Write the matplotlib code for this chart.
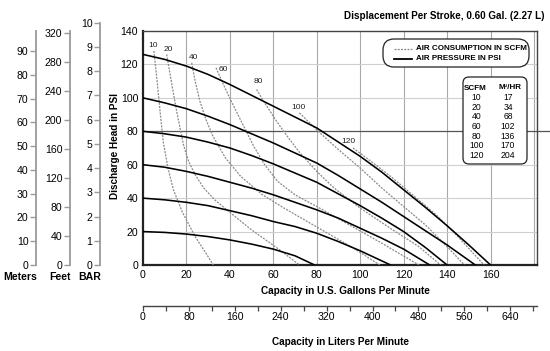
import matplotlib
matplotlib.use("Agg")
import matplotlib.pyplot as plt
from matplotlib.patches import FancyBboxPatch
from matplotlib.lines import Line2D
from matplotlib.ticker import MultipleLocator

plt.rcParams['font.family'] = ['Liberation Sans Narrow', 'Liberation Sans', 'DejaVu Sans']

# ---------------- data ----------------
psi_labels = [20, 40, 60, 80, 100, 120]
psi20_gpm = [0, 10, 20, 30, 40, 50, 60, 70, 79]
psi20_head = [20, 19.5, 18.5, 17, 15, 12.5, 9.5, 5.5, 0]
psi40_gpm = [0, 10, 20, 30, 40, 50, 60, 70, 80, 90, 100, 114]
psi40_head = [40, 39, 37.5, 35.5, 32.5, 29.5, 26, 23, 19, 14, 8.5, 0]
psi60_gpm = [0, 10, 20, 30, 40, 50, 60, 70, 80, 90, 100, 110, 120, 132]
psi60_head = [60, 58.5, 56, 53, 49.5, 46, 42, 37.5, 33, 28, 22, 16, 9.5, 0]
psi80_gpm = [0, 10, 20, 30, 40, 50, 60, 70, 80, 90, 100, 110, 120, 130, 140]
psi80_head = [80, 78.5, 76.5, 73.5, 70, 65.5, 60.5, 55, 49.5, 42.5, 35.5, 28, 20, 10.5, 0]
psi100_gpm = [0, 10, 20, 30, 40, 50, 60, 70, 80, 90, 100, 110, 120, 130, 140, 153]
psi100_head = [100, 97, 93.5, 89, 84, 78.5, 73, 67, 61, 53.5, 45.5, 37.5, 29, 20.5, 12, 0]
psi120_gpm = [0, 10, 20, 30, 40, 50, 60, 70, 80, 90, 100, 110, 120, 130, 140, 150, 160]
psi120_head = [126, 123, 119, 114, 108, 101.5, 95, 88.5, 82, 73.5, 65, 55.5, 45, 34.5, 23.5, 12, 0]

scfm_labels = [10, 20, 40, 60, 80, 100, 120]
scfm10_gpm = [5, 6.5, 8, 9.4, 11.5, 14, 18, 24, 28.5, 32.4]
scfm10_head = [128, 110, 90, 73, 58, 45, 32, 17, 8, 0]
scfm20_gpm = [10.9, 13, 15.5, 18.6, 21, 24, 28, 33, 40, 50, 63, 72]
scfm20_head = [126, 110, 92, 72, 62, 54, 46, 39, 31.5, 21, 9, 0]
scfm40_gpm = [22.4, 24, 26.2, 29, 32.2, 38, 45, 55, 65, 75, 85, 97, 109]
scfm40_head = [121, 110, 98, 87, 77, 64, 53, 42, 34, 26.5, 19, 10, 0]
scfm60_gpm = [33.6, 37, 41, 46, 51, 56, 62, 70, 80, 95, 110, 127]
scfm60_head = [118, 108, 97, 84, 71, 60, 50, 42, 35, 24, 13, 0]
scfm80_gpm = [52.3, 56, 61.5, 67, 72.3, 80, 88, 100, 115, 127, 137]
scfm80_head = [105, 97, 86, 76, 67, 56, 46, 34, 21, 11, 0]
scfm100_gpm = [72, 76, 80, 90, 100, 110, 120, 130, 140, 148]
scfm100_head = [91, 86, 80.8, 69, 58, 46, 35, 24, 11, 0]
scfm120_gpm = [96.7, 105, 115, 125, 135, 145, 157]
scfm120_head = [70, 62, 52, 41, 30, 17, 0]
scfm_label_gpm = [4.6, 11.5, 23.2, 37, 53.1, 71.5, 94.5]
scfm_label_head = [131.6, 129, 124.3, 116.9, 109.9, 94.3, 73.8]

table_scfm = ['10', '20', '40', '60', '80', '100', '120']
table_m3hr = ['17', '34', '68', '102', '136', '170', '204']

gpm_ticks = [0, 20, 40, 60, 80, 100, 120, 140, 160]
psi_ticks = [0, 20, 40, 60, 80, 100, 120, 140]
lpm_ticks = [0, 80, 160, 240, 320, 400, 480, 560, 640]
meter_ticks = [0, 10, 20, 30, 40, 50, 60, 70, 80, 90]
feet_ticks = [0, 40, 80, 120, 160, 200, 240, 280, 320]
bar_ticks = [0, 1, 2, 3, 4, 5, 6, 7, 8, 9, 10]

XMAX = 181.4
YMAX = 140.0
L_PER_GAL = 3.78541
M_PER_PSI = 0.70307
FT_PER_PSI = 2.30666
BAR_PER_PSI = 0.0689476

# ---------------- figure ----------------
W, H = 550, 351
fig = plt.figure(figsize=(W / 100, H / 100), dpi=100)
fig.patch.set_facecolor('white')

def fx(px):
    return px / W

def fy(py):
    return 1 - py / H

TICKFS = 7.6
BOLDFS = 7.2
SMALLFS = 5.8

# main axes (pixel box: x 143..537, y 31..265)
ax = fig.add_axes([fx(143), fy(265), fx(537) - fx(143), fy(31) - fy(265)])
ax.set_xlim(0, XMAX)
ax.set_ylim(0, YMAX)
ax.set_xticks(gpm_ticks)
ax.set_yticks(psi_ticks)
ax.tick_params(length=0, labelsize=TICKFS, pad=3.5)
for v in gpm_ticks[1:] + [180]:
    ax.axvline(v, color='#a8a8a8', lw=0.8, zorder=1)
for v in psi_ticks[1:-1]:
    if v == 80:
        continue
    ax.axhline(v, color='#cfcfcf', lw=0.8, zorder=1)
ax.plot([0, 1.033], [80 / YMAX, 80 / YMAX], transform=ax.transAxes,
        color='#555555', lw=0.9, clip_on=False, zorder=1)
for s in ['left', 'bottom']:
    ax.spines[s].set_color('#222222')
    ax.spines[s].set_linewidth(1.6)
for s in ['top', 'right']:
    ax.spines[s].set_color('#444444')
    ax.spines[s].set_linewidth(1.0)

pressure = [(psi20_gpm, psi20_head), (psi40_gpm, psi40_head), (psi60_gpm, psi60_head),
            (psi80_gpm, psi80_head), (psi100_gpm, psi100_head), (psi120_gpm, psi120_head)]
for g, h in pressure:
    ax.plot(g, h, color='black', lw=1.15, zorder=4, solid_joinstyle='round')

air = [(scfm10_gpm, scfm10_head), (scfm20_gpm, scfm20_head), (scfm40_gpm, scfm40_head),
       (scfm60_gpm, scfm60_head), (scfm80_gpm, scfm80_head), (scfm100_gpm, scfm100_head),
       (scfm120_gpm, scfm120_head)]
for g, h in air:
    ax.plot(g, h, color='#8a8a8a', lw=0.9, ls=(0, (1.6, 1.0)), zorder=3)
for lab, gx, gy in zip(scfm_labels, scfm_label_gpm, scfm_label_head):
    ax.text(gx, gy, str(lab), fontsize=6.0, ha='center', va='center', color='#222222', zorder=5)

fig.text(fx(115), fy(146), 'Discharge Head in PSI', fontsize=BOLDFS, fontweight='bold',
         rotation=90, ha='center', va='center')
fig.text(fx(345), fy(291.5), 'Capacity in U.S. Gallons Per Minute', fontsize=BOLDFS,
         fontweight='bold', ha='center', va='center')

# liters axis
axl = fig.add_axes([fx(143), fy(306), fx(537) - fx(143), 0.0001])
axl.set_xlim(0, XMAX * L_PER_GAL)
axl.set_ylim(0, 1)
axl.patch.set_visible(False)
for s in ['left', 'right', 'top']:
    axl.spines[s].set_visible(False)
axl.spines['bottom'].set_color('#444444')
axl.spines['bottom'].set_linewidth(1.0)
axl.set_yticks([])
axl.set_xticks(lpm_ticks)
axl.xaxis.set_minor_locator(MultipleLocator(40))
axl.tick_params(axis='x', which='both', direction='out', length=3.5, width=0.9,
                color='#444444', labelsize=TICKFS, pad=0.5)
fig.text(fx(340), fy(342), 'Capacity in Liters Per Minute', fontsize=BOLDFS,
         fontweight='bold', ha='center', va='center')

# left unit scales
def unit_axis(xpix, top_pix, vmax, ticks):
    a = fig.add_axes([fx(xpix), fy(265), 0.0001, fy(top_pix) - fy(265)])
    a.set_ylim(0, vmax)
    a.patch.set_visible(False)
    for s in ['right', 'top', 'bottom']:
        a.spines[s].set_visible(False)
    a.spines['left'].set_color('#9a9a9a')
    a.spines['left'].set_linewidth(1.3)
    a.set_xticks([])
    a.set_yticks(ticks)
    a.tick_params(axis='y', direction='out', length=4, width=1.0, color='#9a9a9a',
                  labelsize=TICKFS, pad=1.5)
    return a

unit_axis(36, 31, YMAX * M_PER_PSI, meter_ticks)
unit_axis(70, 31, YMAX * FT_PER_PSI, feet_ticks)
bar_top = 265 - 234 * (10 / (YMAX * BAR_PER_PSI))
unit_axis(100, bar_top, 10, bar_ticks)
for name, xc in [('Meters', 20), ('Feet', 60), ('BAR', 90)]:
    fig.text(fx(xc), fy(277), name, fontsize=7.6, fontweight='bold', ha='center', va='center')

# title
fig.text(fx(545), fy(16), 'Displacement Per Stroke, 0.60 Gal. (2.27 L)', fontsize=7.1,
         fontweight='bold', ha='right', va='center')

# legend box (inches via dpi_scale_trans)
T = fig.dpi_scale_trans
def ip(x, y):
    return x / 100, (H - y) / 100

lx0, ly0 = ip(383, 67)
fig.add_artist(FancyBboxPatch((lx0, ly0), 1.46, 0.28,
                              boxstyle='round,pad=0,rounding_size=0.11',
                              transform=T, fc='white', ec='#222222', lw=0.9, zorder=10))
x1, y1 = ip(394, 48.5)
x2, _ = ip(412, 48.5)
fig.add_artist(Line2D([x1, x2], [y1, y1], transform=T, color='#8a8a8a', lw=0.9,
                      ls=(0, (1.6, 1.0)), zorder=11))
_, y2 = ip(394, 58.5)
fig.add_artist(Line2D([x1, x2], [y2, y2], transform=T, color='black', lw=1.3, zorder=11))
fig.text(fx(416), fy(48.5), 'AIR CONSUMPTION IN SCFM', fontsize=SMALLFS,
         fontweight='bold', ha='left', va='center', zorder=12)
fig.text(fx(416), fy(58.5), 'AIR PRESSURE IN PSI', fontsize=SMALLFS,
         fontweight='bold', ha='left', va='center', zorder=12)

# conversion table
bx0, by0 = ip(463, 164)
fig.add_artist(FancyBboxPatch((bx0, by0), 0.64, 0.87,
                              boxstyle='round,pad=0,rounding_size=0.06',
                              transform=T, fc='white', ec='#222222', lw=0.9, zorder=10))
fig.text(fx(475), fy(88), 'SCFM', fontsize=SMALLFS, fontweight='bold', ha='center', va='center', zorder=12)
fig.text(fx(510), fy(87.5), 'M³/HR', fontsize=SMALLFS, fontweight='bold', ha='center', va='center', zorder=12)
for i, (a_, b_) in enumerate(zip(table_scfm, table_m3hr)):
    yy = 97.5 + i * 9.7
    fig.text(fx(476.5), fy(yy), a_, fontsize=6.2, ha='center', va='center', zorder=12)
    fig.text(fx(508), fy(yy), b_, fontsize=6.2, ha='center', va='center', zorder=12)

fig.savefig('out.png', dpi=100)
